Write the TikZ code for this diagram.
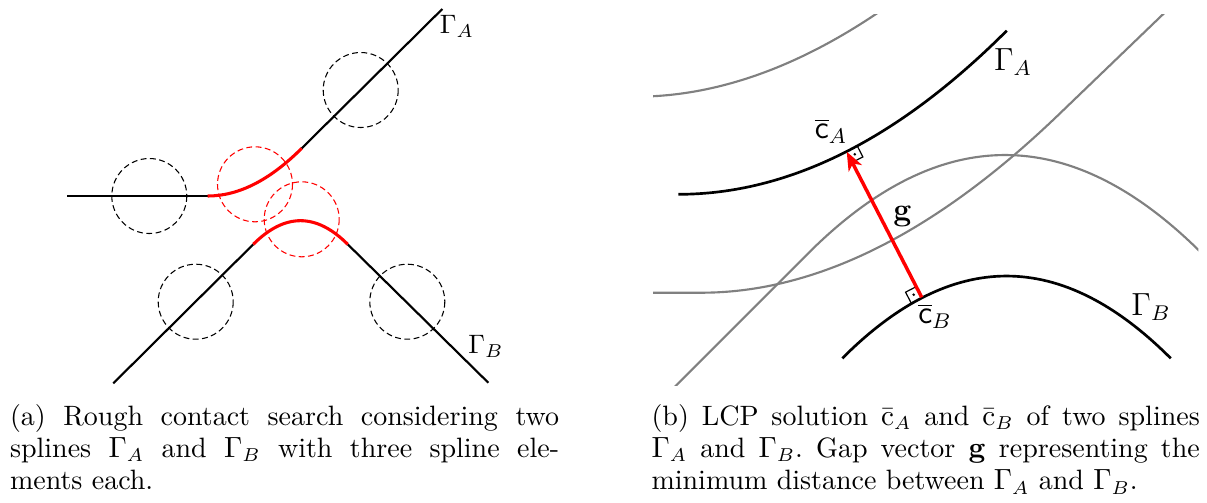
\documentclass[tikz,border=0pt]{standalone}
\usetikzlibrary{calc,arrows.meta}
\newcommand{\capsize}{\fontsize{10.5}{12.07}\selectfont\frenchspacing}
\begin{document}
\begin{tikzpicture}[x=0.375pt,y=-0.375pt,
  curve/.style={line width=0.8pt,black},
  contact/.style={line width=1.15pt,red},
  searchcirc/.style={line width=0.4pt,dash pattern=on 2.2pt off 1.3pt},
  spline/.style={line width=1pt,black},
  other/.style={line width=0.8pt,gray},
  gapvec/.style={line width=1.3pt,red,-{Stealth[length=7pt,width=5.5pt,inset=2pt]}},
  ramark/.style={line width=0.45pt,black},
  lbl/.style={inner sep=0pt},
  biglbl/.style={inner sep=0pt,font=\large},
  capnode/.style={inner sep=0pt,anchor=base west}]
\useasboundingbox (0,0) rectangle (1207,502);

% ---------- left panel ----------
\foreach \cx/\cy in {149.3/196, 360.7/90, 195.7/301.7, 407.3/301.7}
  \draw[searchcirc] (\cx,\cy) circle[radius=37.5];
\foreach \cx/\cy in {255/184.3, 301.7/219.3}
  \draw[searchcirc,red] (\cx,\cy) circle[radius=37.5];

\coordinate (a0) at (67,196);
\coordinate (a1) at (207.7,196);
\coordinate (a2) at (301.7,148.3);
\coordinate (a3) at (442.3,9);
\draw[curve] (a0) -- (a1);
\draw[curve] (a2) -- (a3);
\draw[contact] (a1) .. controls (238.6,196) and (269.9,180.1) .. (a2);

\coordinate (b0) at (113.3,383.3);
\coordinate (b1) at (253.3,244.3);
\coordinate (b2) at (347.7,244.3);
\coordinate (b3) at (488.3,382.7);
\draw[curve] (b0) -- (b1);
\draw[curve] (b2) -- (b3);
\draw[contact] (b1) .. controls (284.8,212.8) and (316.2,212.8) .. (b2);

\node[lbl] (lA) at (457,26) {$\Gamma_A$};
\node[lbl] (lB) at (486,346) {$\Gamma_B$};

% ---------- right panel ----------
\begin{scope}
  \clip (653,14) rectangle (1198.3,385.7);
  \draw[other] (640,292.7) -- (701.3,292.7) .. controls (816.2,292.7) and (935.4,233.2) .. (1059,114.3) -- (1180,-2.1);
  \begin{scope}[shift={(-66,-196)}]
    \draw[other] (640,292.7) -- (701.3,292.7) .. controls (816.2,292.7) and (935.4,233.2) .. (1059,114.3) -- (1180,-2.1);
  \end{scope}
  \draw[other] (660,401.5) -- (808,253.5) .. controls (939.3,122.2) and (1070.7,122.2) .. (1202,253.5) -- (1215,266.5);
\end{scope}

\coordinate (gA0) at (678.3,194.3);
\coordinate (gA1) at (1006.7,30.7);
\draw[spline] (gA0) .. controls (788.2,194.3) and (897.6,139.8) .. (gA1);
\coordinate (gB0) at (842.3,358.3);
\coordinate (gB1) at (1170.7,358.3);
\draw[spline] (gB0) .. controls (951.8,248.6) and (1061.2,248.6) .. (gB1);

\coordinate (cA) at (846.7,151.7);
\coordinate (cB) at (921.7,297.3);
\coordinate (tA) at (864.5,142.6);
\coordinate (tB) at (904,306.5);

\coordinate (mA1) at ($(cA)!4.5pt!(tA)$);
\coordinate (mA2) at ($(cA)!4.5pt!(cB)$);
\coordinate (mA3) at ($(mA1)+(mA2)-(cA)$);
\draw[ramark] (mA1) -- (mA3) -- (mA2);
\fill ($(cA)!0.5!(mA3)$) circle[radius=1.4];

\coordinate (mB1) at ($(cB)!4.5pt!(tB)$);
\coordinate (mB2) at ($(cB)!4.5pt!(cA)$);
\coordinate (mB3) at ($(mB1)+(mB2)-(cB)$);
\draw[ramark] (mB1) -- (mB3) -- (mB2);
\fill ($(cB)!0.5!(mB3)$) circle[radius=1.4];

\draw[gapvec] (cB) -- (cA);

\node[biglbl] (lGA) at (1013,62) {$\Gamma_A$};
\node[biglbl] (lGB) at (1151,307) {$\Gamma_B$};
\node[biglbl] (lcA) at (831,131) {$\overline{\mathsf{c}}_A$};
\node[biglbl] (lcB) at (935,316) {$\overline{\mathsf{c}}_B$};
\node[biglbl] (lg) at (902.5,216) {$\mathbf{g}$};

% ---------- captions ----------
\node[capnode] (capA) at (9.5,425.3) {\parbox[t]{205.9pt}{\capsize (a) Rough contact search considering two\linebreak splines $\Gamma_A$ and $\Gamma_B$ with three spline ele-\linebreak ments each.}};
\node[capnode] (capB) at (651,425.3) {\parbox[t]{205.6pt}{\capsize (b) LCP solution $\bar{\mathrm{c}}_A$ and $\bar{\mathrm{c}}_B$ of two splines\linebreak $\Gamma_A$ and $\Gamma_B$. Gap vector $\mathbf{g}$ representing the\linebreak minimum distance between $\Gamma_A$ and $\Gamma_B$.}};
\end{tikzpicture}
\end{document}
